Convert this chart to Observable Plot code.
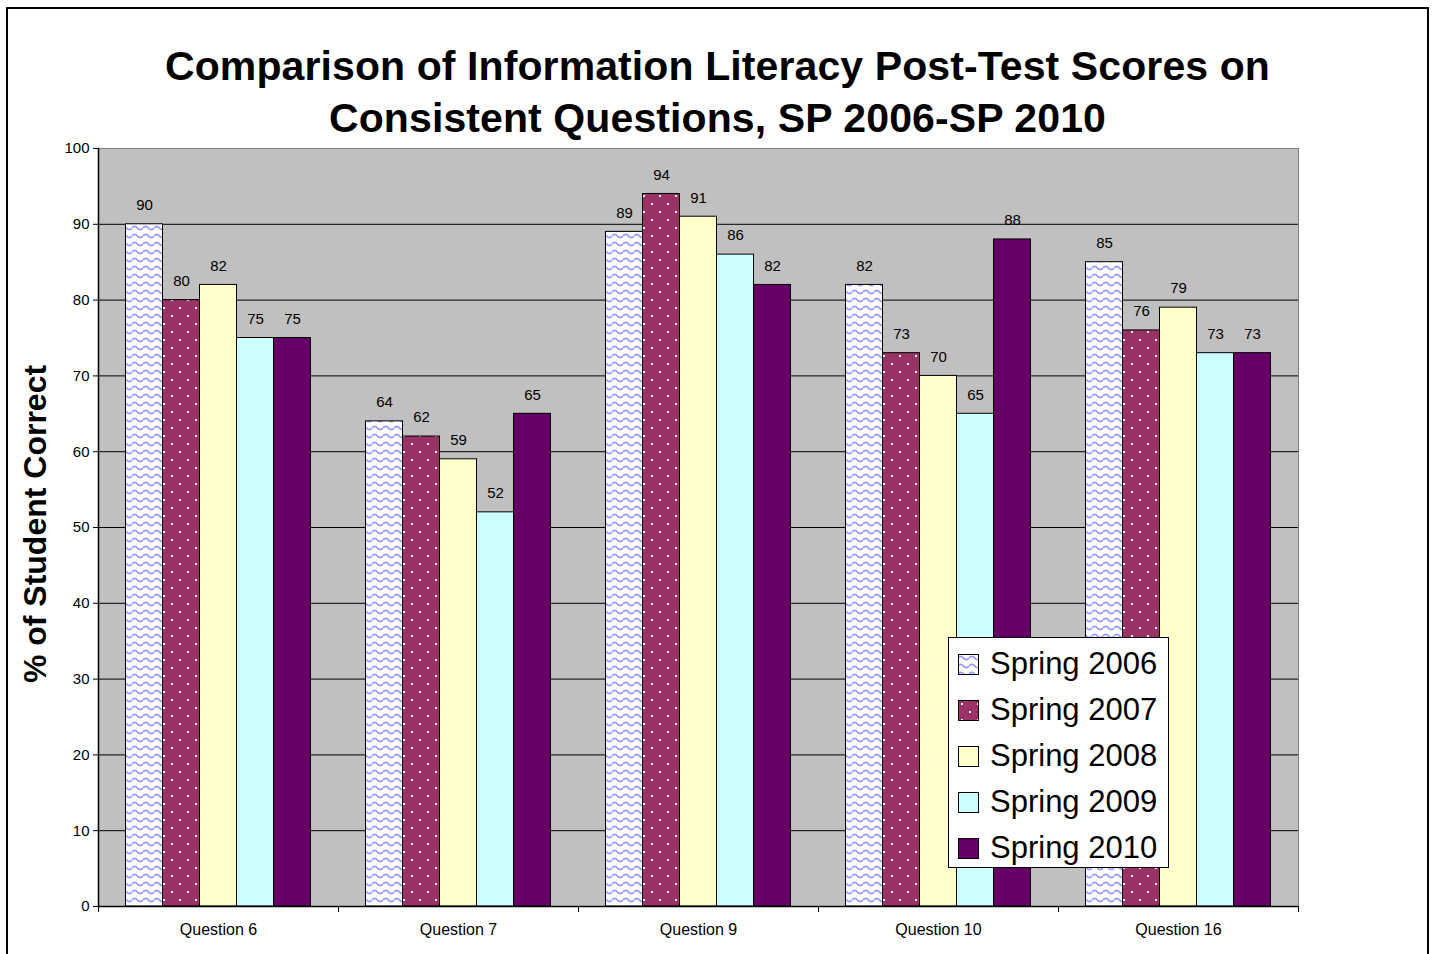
<!DOCTYPE html>
<html>
<head>
<meta charset="utf-8">
<script src="https://cdn.jsdelivr.net/npm/d3@7"></script>
<script src="https://cdn.jsdelivr.net/npm/@observablehq/plot@0.6"></script>
<style>
  html, body { margin: 0; padding: 0; background: #fff; }
  body { width: 1432px; height: 954px; position: relative; overflow: hidden; font-family: Arial, "Liberation Sans", sans-serif; }
  #frame { position: absolute; left: 6px; top: 7px; width: 1423px; height: 990px; box-sizing: border-box; border: 2px solid #000; pointer-events: none; z-index: 5; }
  #title { position: absolute; left: 0; top: 40px; width: 1435px; text-align: center; font-weight: bold; font-size: 41px; line-height: 52px; letter-spacing: 0.1px; color: #000; z-index: 3; }
  #ylabel { position: absolute; left: 35px; top: 524px; transform: translate(-50%, -50%) rotate(-90deg); white-space: nowrap; font-weight: bold; font-size: 32px; color: #000; z-index: 3; }
  #chart { position: absolute; left: 0; top: 0; z-index: 1; }
  #legend { position: absolute; left: 948px; top: 637px; width: 221px; height: 231px; box-sizing: border-box; border: 1px solid #000; background: #fff; z-index: 4; }
  .row { position: absolute; left: 0; height: 46px; display: flex; align-items: center; }
  .row svg { margin-left: 9px; display: block; }
  .row span { margin-left: 11px; font-size: 31px; color: #000; white-space: nowrap; }
</style>
</head>
<body>
<svg width="0" height="0" style="position:absolute">
  <defs>
    <pattern id="wave2006" patternUnits="userSpaceOnUse" width="11" height="8">
      <rect width="11" height="8" fill="#ffffff"></rect>
      <path d="M0,4 Q2.75,0.6 5.5,4 T11,4" fill="none" stroke="#9999ff" stroke-width="1.8"></path>
    </pattern>
    <pattern id="dots2007" patternUnits="userSpaceOnUse" width="16" height="16">
      <rect width="16" height="16" fill="#993366"></rect>
      <rect x="3" y="3" width="2" height="2" fill="#ffffff" fill-opacity="0.9"></rect>
      <rect x="11" y="11" width="2" height="2" fill="#ffffff" fill-opacity="0.9"></rect>
    </pattern>
  </defs>
</svg>
<div id="frame"></div>
<div id="title">Comparison of Information Literacy Post-Test Scores on<br>Consistent Questions, SP 2006-SP 2010</div>
<div id="ylabel">% of Student Correct</div>
<div id="chart"></div>
<div id="legend"></div>
<script>
// ---- Data ----
const questions = ["Question 6", "Question 7", "Question 9", "Question 10", "Question 16"];
const seriesNames = ["Spring 2006", "Spring 2007", "Spring 2008", "Spring 2009", "Spring 2010"];
const spring2006 = [90, 64, 89, 82, 85];
const spring2007 = [80, 62, 94, 73, 76];
const spring2008 = [82, 59, 91, 70, 79];
const spring2009 = [75, 52, 86, 65, 73];
const spring2010 = [75, 65, 82, 88, 73];
const yTicks = [0, 10, 20, 30, 40, 50, 60, 70, 80, 90, 100];
const gridTicks = [10, 20, 30, 40, 50, 60, 70, 80, 90];

// ---- Styling ----
const seriesFills = ["url(#wave2006)", "url(#dots2007)", "#FFFFCC", "#CCFFFF", "#660066"];

const seriesValues = [spring2006, spring2007, spring2008, spring2009, spring2010];
const table = [];
questions.forEach((q, qi) => {
  seriesNames.forEach((s, si) => {
    table.push({question: q, series: s, value: seriesValues[si][qi]});
  });
});

const plot = Plot.plot({
  width: 1432,
  height: 954,
  marginLeft: 98,
  marginRight: 134,
  marginTop: 148,
  marginBottom: 48,
  style: {fontFamily: "Arial, 'Liberation Sans', sans-serif", background: "transparent", overflow: "visible", color: "#000"},
  fx: {domain: questions, padding: 0},
  x: {domain: seriesNames, paddingInner: 0, paddingOuter: 0.743, round: false, axis: null},
  y: {domain: [0, 100], axis: null},
  color: {domain: seriesNames, range: seriesFills},
  marks: [
    Plot.frame({fill: "#C0C0C0", insetLeft: -0.6, insetRight: -0.6}),
    Plot.gridY(gridTicks, {stroke: "#000", strokeOpacity: 1, strokeWidth: 1}),
    Plot.frame({anchor: "top", stroke: "#808080", strokeWidth: 1}),
    Plot.frame({anchor: "right", stroke: "#808080", strokeWidth: 1, facetAnchor: "right"}),
    Plot.barY(table, {fx: "question", x: "series", y: "value", fill: "series", stroke: "#000", strokeWidth: 1}),
    Plot.text(table, {fx: "question", x: "series", y: "value", text: d => String(d.value), dy: -19, fontSize: 15, fill: "#000"}),
    Plot.ruleY([0], {stroke: "#000", strokeWidth: 1.5}),
    Plot.frame({anchor: "left", stroke: "#000", strokeWidth: 1.5, facetAnchor: "left"}),
    Plot.axisY({ticks: yTicks, tickSize: 5, tickPadding: 4, fontSize: 15, label: null, stroke: "#000"}),
    Plot.axisFx({anchor: "bottom", tickSize: 6, tickFormat: () => "", dx: -120, label: null, stroke: "#000"}),
    Plot.axisFx({anchor: "bottom", ticks: ["Question 16"], tickSize: 6, tickFormat: () => "", dx: 120, label: null, stroke: "#000"}),
    Plot.axisFx({anchor: "bottom", tickSize: 0, tickPadding: 17, fontSize: 16, label: null})
  ]
});
document.getElementById("chart").appendChild(plot);

// ---- Legend ----
const legend = document.getElementById("legend");
seriesNames.forEach((s, i) => {
  const row = document.createElement("div");
  row.className = "row";
  row.style.top = (3 + 46 * i) + "px";
  row.innerHTML = `<svg width="21" height="21"><rect x="0.5" y="0.5" width="20" height="20" fill="${seriesFills[i]}" stroke="#000" stroke-width="1"></rect></svg><span>${s}</span>`;
  legend.appendChild(row);
});
</script>
</body>
</html>
